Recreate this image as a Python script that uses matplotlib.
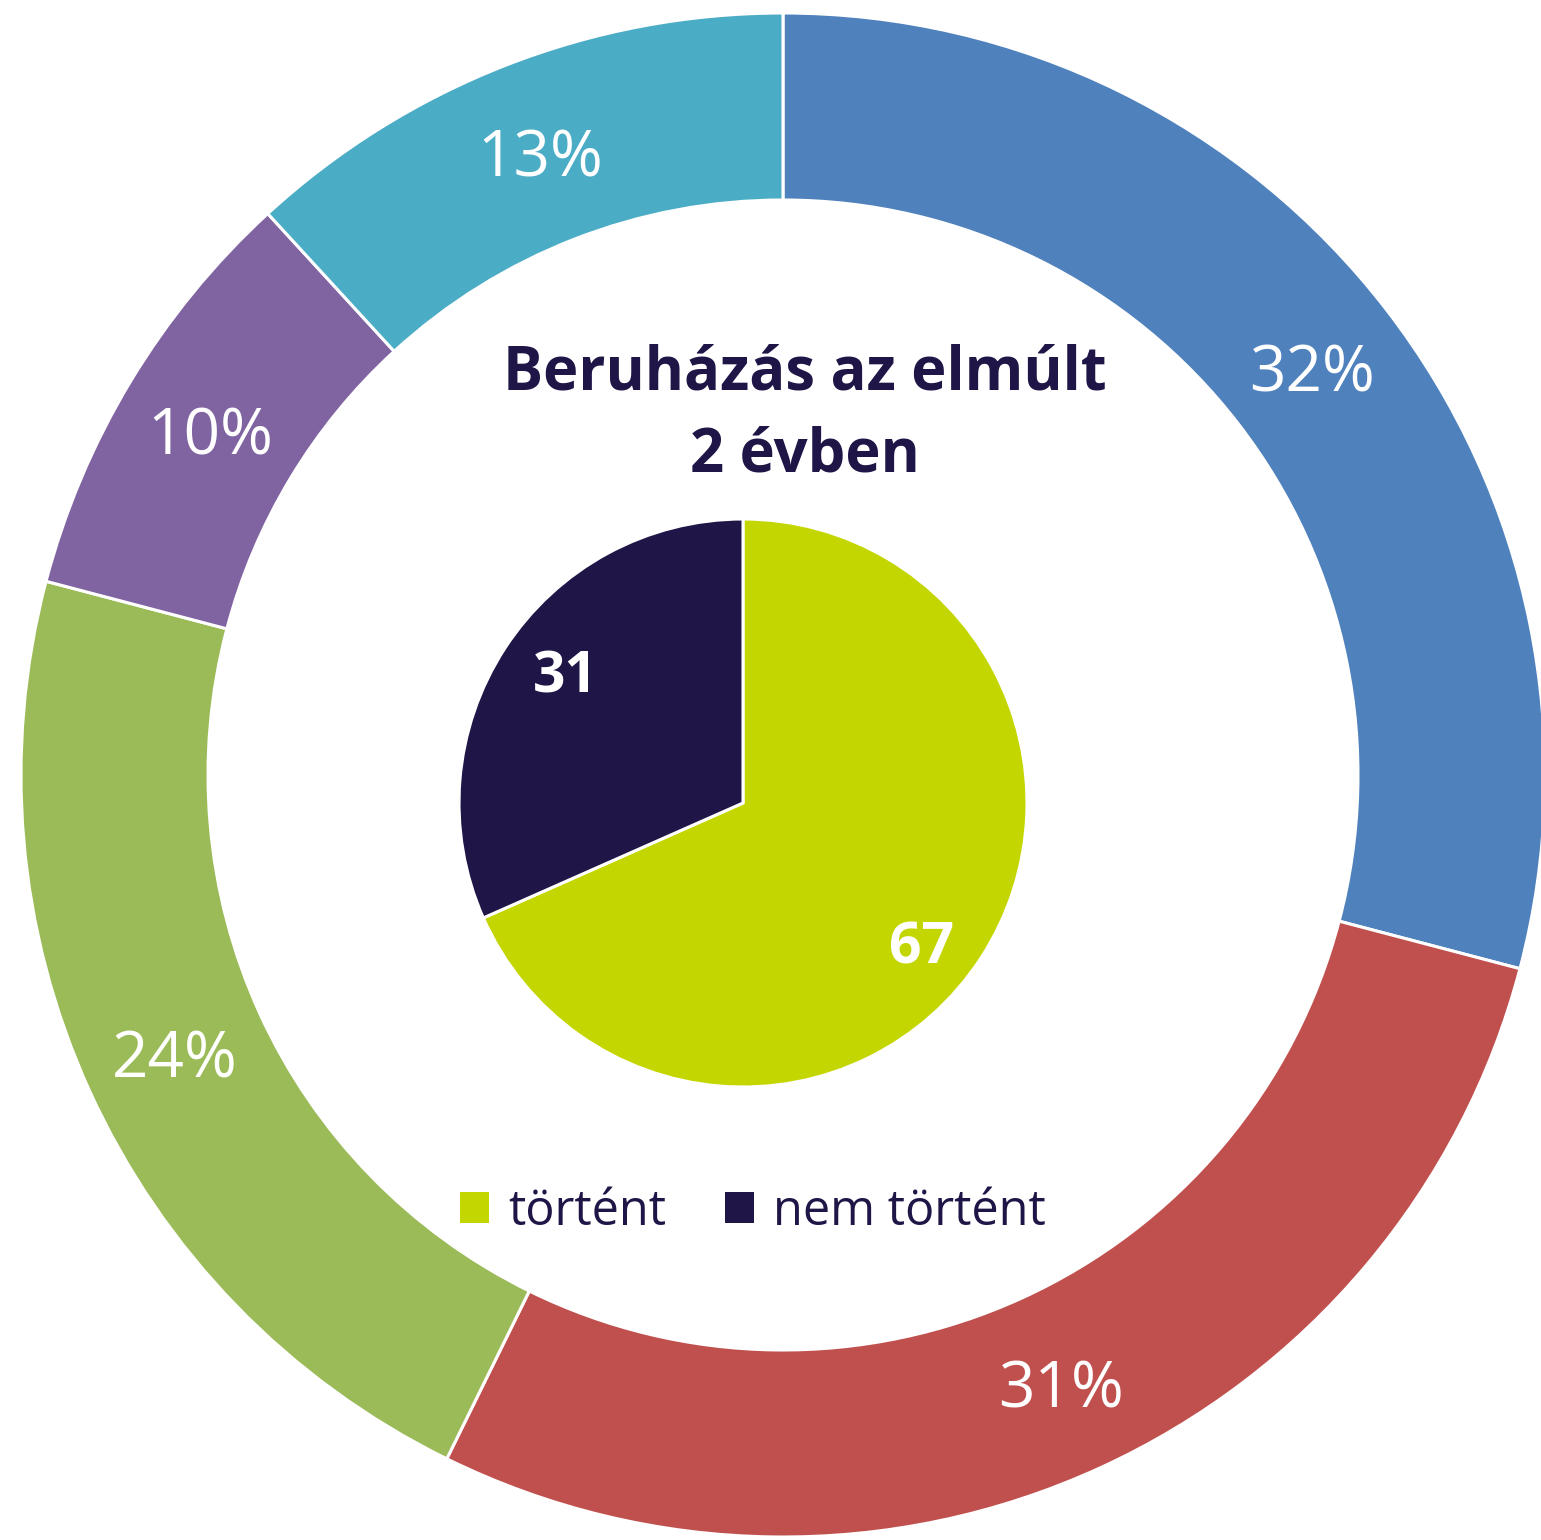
import matplotlib.pyplot as plt
from matplotlib.patches import Patch

plt.rcParams['font.family'] = ['Open Sans', 'DejaVu Sans']

# outer ring: share by category (labels as printed)
outer_vals = [32, 31, 24, 10, 13]
outer_labels = ["32%", "31%", "24%", "10%", "13%"]
outer_colors = ["#4F81BD", "#C0504D", "#9BBB59", "#8064A2", "#4BACC6"]

# inner pie: investment in last 2 years
inner_vals = [67, 31]
inner_names = ["történt", "nem történt"]
inner_colors = ["#C4D600", "#201547"]

navy = "#201547"

fig = plt.figure(figsize=(15.41, 15.40), dpi=100)
ax = fig.add_axes([0, 0, 1, 1])

# outer donut
R_out = 762
w_out = 187
ax.pie(outer_vals, labels=outer_labels, colors=outer_colors,
       startangle=90, counterclock=False, center=(783, 765), radius=R_out,
       labeldistance=(R_out - w_out / 2) / R_out,
       wedgeprops=dict(width=w_out, edgecolor='white', linewidth=2.2),
       textprops=dict(color='white', fontsize=46, ha='center', va='center_baseline'),
       frame=True)

# inner pie
R_in = 284
wedges, texts = ax.pie(inner_vals, labels=[str(v) for v in inner_vals], colors=inner_colors,
                       startangle=90, counterclock=False, center=(743, 737), radius=R_in,
                       labeldistance=0.79,
                       wedgeprops=dict(edgecolor='white', linewidth=2.2),
                       textprops=dict(color='white', fontsize=41, fontweight='bold',
                                      ha='center', va='center_baseline'),
                       frame=True)
# nudge labels to where excel put them
x, y = texts[0].get_position()
texts[0].set_position((x - 10, y - 16))
x, y = texts[1].get_position()
texts[1].set_position((x + 10, y + 10))

ax.set_xlim(0, 1541)
ax.set_ylim(0, 1540)
ax.set_aspect('equal')
ax.axis('off')

ax.text(805, 1540 - 415, "Beruházás az elmúlt\n2 évben", color=navy, fontsize=43,
        fontweight='bold', ha='center', va='center', linespacing=1.47)

handles = [Patch(facecolor=c, edgecolor='none') for c in inner_colors]
ax.legend(handles, inner_names, loc='center', bbox_to_anchor=(753 / 1541, 1 - 1212 / 1540),
          ncol=2, frameon=False, fontsize=35, labelcolor=navy,
          handlelength=0.6, handleheight=0.6, handletextpad=0.4, columnspacing=1.2)

fig.savefig("out.png", dpi=100)
